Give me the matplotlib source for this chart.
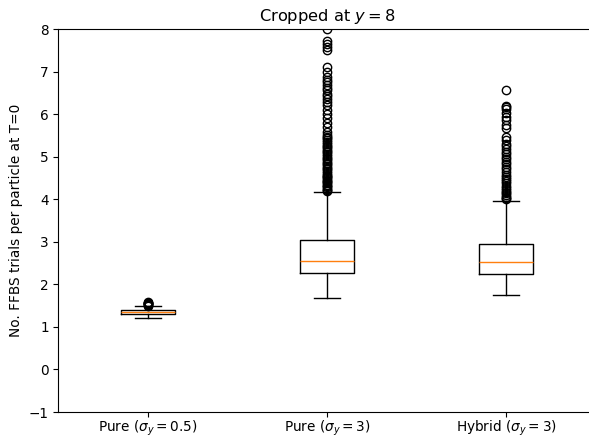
import matplotlib
matplotlib.use("Agg")
import matplotlib.pyplot as plt

# Box statistics
labels = [r"Pure ($\sigma_y = 0.5$)", r"Pure ($\sigma_y = 3$)", r"Hybrid ($\sigma_y = 3$)"]
medians = [1.34, 2.56, 2.53]
q1s = [1.31, 2.27, 2.25]
q3s = [1.39, 3.04, 2.94]
whis_lo = [1.22, 1.69, 1.75]
whis_hi = [1.48, 4.17, 3.97]

fliers_pure05 = [1.50, 1.52, 1.53, 1.54, 1.55, 1.56, 1.57, 1.58]
fliers_pure3 = [
    8.00, 7.72, 7.64, 7.58, 7.50, 7.11, 6.99, 6.87, 6.80, 6.76, 6.68, 6.62,
    6.56, 6.48, 6.42, 6.36, 6.29, 6.21, 6.09, 6.00, 5.90, 5.78, 5.70,
    5.58, 5.52, 5.47, 5.43, 5.39, 5.34, 5.30, 5.26, 5.22, 5.18, 5.14,
    5.10, 5.06, 5.02, 4.98, 4.94, 4.90, 4.86, 4.82, 4.78, 4.74, 4.70,
    4.66, 4.62, 4.58, 4.55, 4.52, 4.49, 4.46, 4.43, 4.40, 4.37, 4.34,
    4.31, 4.28, 4.25, 4.22, 4.20,
]
fliers_hybrid = [
    6.56, 6.20, 6.16, 6.11, 6.03, 5.93, 5.86, 5.74, 5.67, 5.46, 5.39,
    5.30, 5.24, 5.18, 5.12, 5.06, 5.00, 4.94, 4.88, 4.82, 4.76, 4.70,
    4.64, 4.58, 4.52, 4.47, 4.42, 4.37, 4.32, 4.27, 4.22, 4.18, 4.14,
    4.10, 4.06, 4.02, 4.00,
]
fliers = [fliers_pure05, fliers_pure3, fliers_hybrid]

stats = []
for i in range(len(labels)):
    stats.append(dict(label=labels[i], med=medians[i], q1=q1s[i], q3=q3s[i],
                      whislo=whis_lo[i], whishi=whis_hi[i], fliers=fliers[i]))

plt.rcParams['font.size'] = 9.8

fig = plt.figure(figsize=(5.89, 4.37), dpi=100)
ax = fig.add_axes([0.0993, 0.0572, 0.9117, 0.8764])

ax.bxp(stats, positions=[1, 2, 3])
ax.set_xlim(0.5, 3.5)
ax.set_ylim(-1, 8)
ax.set_yticks(range(-1, 9))
ax.tick_params(axis='x', pad=1)
ax.set_ylabel("No. FFBS trials per particle at T=0")
ax.set_title(r"Cropped at $y = 8$", fontsize=11.7)

fig.savefig("out.png", dpi=100)
